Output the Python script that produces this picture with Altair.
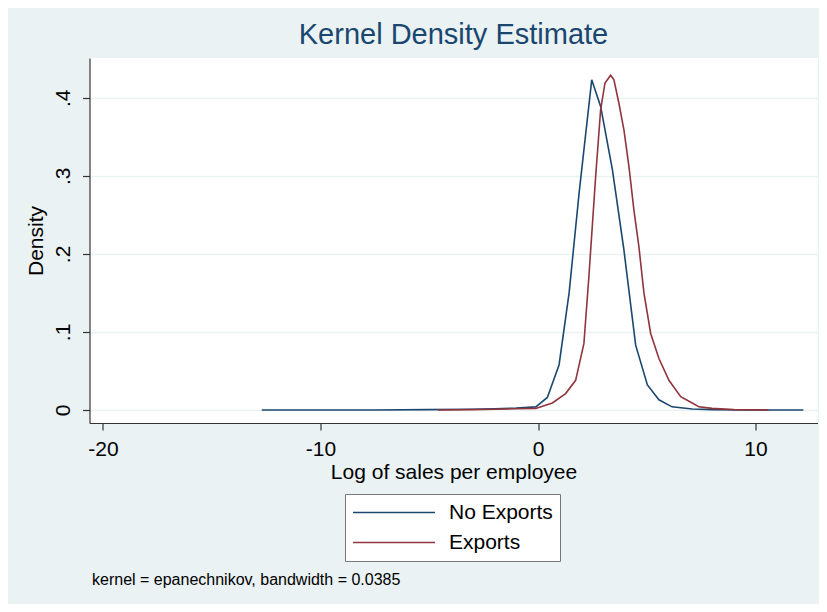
import altair as alt
import pandas as pd

TITLE = "Kernel Density Estimate"
NOTE = "kernel = epanechnikov, bandwidth = 0.0385"
SERIES = ["No Exports", "Exports"]
COLORS = ["#1a476f", "#90353b"]

blue_x = [-12.7, -10.0, -7.5, -5.0, -3.0, -2.0, -1.0, -0.1, 0.43, 0.97, 1.43, 1.89, 2.47,
          2.88, 3.42, 3.95, 4.49, 5.03, 5.56, 6.16, 7.09, 8.0, 9.5, 12.2]
blue_y = [0.0, 0.0, 0.0, 0.0005, 0.001, 0.0015, 0.0025, 0.004, 0.016, 0.058, 0.150, 0.278, 0.423,
          0.389, 0.308, 0.205, 0.083, 0.032, 0.013, 0.004, 0.0012, 0.0005, 0.0, 0.0]

red_x = [-4.6, -3.0, -2.0, -1.0, -0.1, 0.66, 1.27, 1.73, 2.11, 2.34, 2.65, 2.88, 3.08, 3.34,
         3.49, 3.72, 3.95, 4.18, 4.41, 4.64, 4.87, 5.18, 5.56, 6.02, 6.56, 7.09, 7.4, 8.0, 9.0, 10.6]
red_y = [0.0, 0.0005, 0.001, 0.0015, 0.002, 0.009, 0.021, 0.038, 0.085, 0.171, 0.299, 0.385,
         0.419, 0.429, 0.423, 0.393, 0.359, 0.312, 0.256, 0.209, 0.150, 0.098, 0.066, 0.038,
         0.017, 0.009, 0.004, 0.002, 0.0005, 0.0]

x_ticks = [-20, -10, 0, 10]
y_ticks = [0, 0.1, 0.2, 0.3, 0.4]

df = pd.concat([
    pd.DataFrame({"x": blue_x, "y": blue_y, "series": SERIES[0], "ord": range(len(blue_x))}),
    pd.DataFrame({"x": red_x, "y": red_y, "series": SERIES[1], "ord": range(len(red_x))}),
])

FONT = "Liberation Sans"

lines = alt.Chart(df).mark_line(strokeWidth=1.6).encode(
    x=alt.X("x:Q",
            scale=alt.Scale(domain=[-20.62, 12.85], nice=False, zero=False),
            axis=alt.Axis(values=x_ticks, title="Log of sales per employee", grid=False,
                          tickSize=7, labelPadding=8, titlePadding=2,
                          labelExpr="'' + datum.value")),
    y=alt.Y("y:Q",
            scale=alt.Scale(domain=[-0.0167, 0.451], nice=False, zero=False),
            axis=alt.Axis(values=y_ticks, title="Density", grid=True, gridColor="#eaf2f3",
                          gridWidth=1.5, tickSize=7, labelAngle=270, labelAlign="center",
                          labelBaseline="bottom", labelPadding=9, titlePadding=6,
                          labelExpr="datum.value == 0 ? '0' : replace(format(datum.value, '.1f'), '0.', '.')")),
    color=alt.Color("series:N",
                    scale=alt.Scale(domain=SERIES, range=COLORS),
                    legend=alt.Legend(title=None, orient="none", legendX=255.5, legendY=436,
                                      symbolType="stroke", symbolSize=6724, symbolStrokeWidth=1.6,
                                      clipHeight=23, rowPadding=7, labelFontSize=21,
                                      labelFont=FONT, labelOffset=13, padding=7,
                                      fillColor="white", strokeColor="#777777",
                                      labelColor="#000000")),
    order="ord:Q",
)

note = alt.Chart(pd.DataFrame({"note": [NOTE]})).mark_text(
    align="left", baseline="middle", fontSize=16, font=FONT, color="#000000"
).encode(x=alt.value(2.5), y=alt.value(522), text="note:N")

chart = alt.layer(lines, note).properties(
    width=728, height=365,
    title=alt.Title(TITLE, fontSize=29, font=FONT, fontWeight="normal", color="#1a476f",
                    anchor="middle", offset=8),
    autosize=alt.AutoSizeParams(type="none"),
    padding={"left": 81.5, "top": 50, "right": 1.5, "bottom": 181},
    background="#eaf2f3",
).configure_view(fill="white", stroke=None).configure_axis(
    labelFont=FONT, titleFont=FONT, labelFontSize=21, titleFontSize=21,
    labelColor="#000000", titleColor="#000000", titleFontWeight="normal",
    domainColor="#333333", tickColor="#333333", domainWidth=1.2, tickWidth=1.2,
)

chart.save("out.html", embed_options={"renderer": "svg", "actions": False})
